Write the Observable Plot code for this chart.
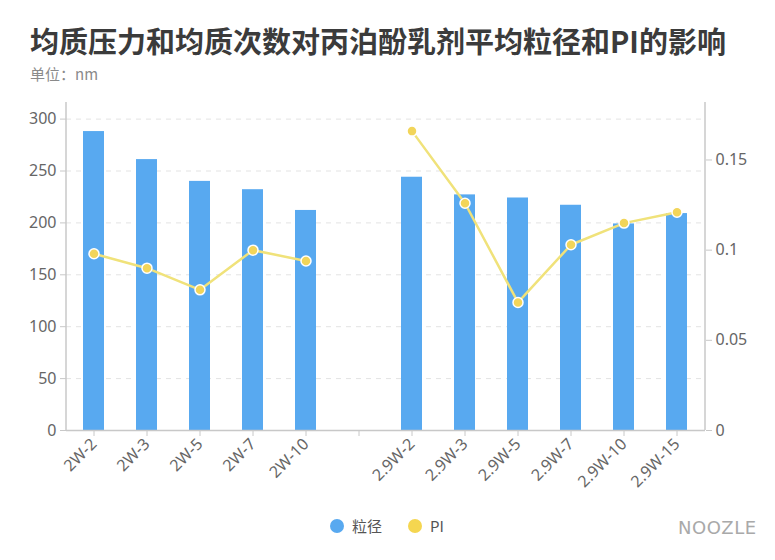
<!DOCTYPE html>
<html><head><meta charset="utf-8">
<script src="https://cdn.jsdelivr.net/npm/d3@7"></script>
<script src="https://cdn.jsdelivr.net/npm/@observablehq/plot@0.6"></script>
<style>
body{margin:0;background:#fff;font-family:"Noto Sans","Noto Sans CJK SC",sans-serif;}
#wrap{position:relative;width:775px;height:560px;overflow:hidden;}
#title{position:absolute;left:30px;top:19px;font-size:29px;font-weight:bold;color:#3b3b3b;font-family:"Noto Sans CJK SC","Noto Sans",sans-serif;white-space:nowrap;}
#sub{position:absolute;left:30px;top:63px;font-size:15px;color:#8a8a8a;font-family:"Noto Sans CJK SC","Noto Sans",sans-serif;}
#chart{position:absolute;left:0;top:90px;}
#legend{position:absolute;top:513px;left:0;width:775px;font-size:15px;color:#555;font-family:"Noto Sans CJK SC","Noto Sans",sans-serif;}
.li{position:absolute;display:flex;align-items:center;}
.dot{width:14px;height:14px;border-radius:50%;margin-right:8px;}
#wm{position:absolute;left:678px;top:517px;font-size:18px;color:#a9a9a9;letter-spacing:0.5px;font-family:"DejaVu Sans","Noto Sans",sans-serif;}
</style></head>
<body><div id="wrap">
<div id="title">均质压力和均质次数对丙泊酚乳剂平均粒径和PI的影响</div>
<div id="sub">单位：nm</div>
<div id="chart"></div>
<div id="legend">
  <div class="li" style="left:330px;top:2px"><div class="dot" style="background:#58a9f0"></div>粒径</div>
  <div class="li" style="left:408px;top:2px"><div class="dot" style="background:#f5d650"></div>PI</div>
</div>
<div id="wm">NOOZLE</div>
</div>
<script>
const categories = ["2W-2","2W-3","2W-5","2W-7","2W-10"," ","2.9W-2","2.9W-3","2.9W-5","2.9W-7","2.9W-10","2.9W-15"];
const groups = ["2W","2W","2W","2W","2W",null,"2.9W","2.9W","2.9W","2.9W","2.9W","2.9W"];
const sizeValues = [288,261,240,232,212,null,244,227,224,217,199,209];
const piValues = [0.098,0.090,0.078,0.100,0.094,null,0.166,0.126,0.071,0.103,0.115,0.121];
const leftTicks = [0,50,100,150,200,250,300];
const rightTicks = [0,0.05,0.1,0.15];

const k = 1737.5; // PI -> left-axis units
const rows = categories.map((c,i)=>({cat:c, group:groups[i], size:sizeValues[i], pi:piValues[i]}));
const bars = rows.filter(d=>d.size!=null);
const pts = rows.filter(d=>d.pi!=null);

const ml=66, mr=70, mt=12, mb=80, W=775, H=420;
const chart = Plot.plot({
  width: W, height: H,
  marginLeft: ml, marginRight: mr, marginTop: mt, marginBottom: mb,
  style:{fontFamily:'"Noto Sans","Noto Sans CJK SC",sans-serif', fontSize:"16px", color:"#666", background:"#fff"},
  x:{domain:categories, type:"band", paddingInner:0.6, paddingOuter:0.3, label:null},
  y:{domain:[0,316], label:null},
  marks:[
    Plot.gridY(leftTicks.filter(t=>t>0), {stroke:"#e3e3e3", strokeOpacity:1, strokeDasharray:"5,5"}),
    Plot.barY(bars, {x:"cat", y:"size", fill:"#58a9f0"}),
    Plot.ruleY([0], {stroke:"#c8c8c8", strokeWidth:1.5}),
    Plot.axisY({ticks:leftTicks, tickSize:6, tickPadding:4, stroke:"#c8c8c8", fill:"#666", fontSize:16, label:null}),
    Plot.axisY({anchor:"right", ticks:rightTicks.map(t=>t*k), tickFormat:d=>String(+(d/k).toFixed(2)), tickSize:6, tickPadding:4, stroke:"#c8c8c8", fill:"#666", fontSize:16, label:null}),
    Plot.axisX({ticks:categories, tickSize:6, stroke:"#c8c8c8", fill:"#666", fontSize:16, tickRotate:-45, tickPadding:5, label:null}),
    Plot.line(pts, {x:"cat", y:d=>d.pi*k, z:"group", stroke:"#f0e27a", strokeWidth:2.5}),
    Plot.dot(pts, {x:"cat", y:d=>d.pi*k, r:5, fill:"#f2d55a", stroke:"#fff", strokeWidth:1.5})
  ]
});
const svg = d3.select(chart);
svg.append("line").attr("x1",ml).attr("x2",ml).attr("y1",mt).attr("y2",H-mb).attr("stroke","#c8c8c8").attr("stroke-width",1.5);
svg.append("line").attr("x1",W-mr).attr("x2",W-mr).attr("y1",mt).attr("y2",H-mb).attr("stroke","#c8c8c8").attr("stroke-width",1.5);
document.getElementById("chart").appendChild(chart);
</script>
</body></html>
